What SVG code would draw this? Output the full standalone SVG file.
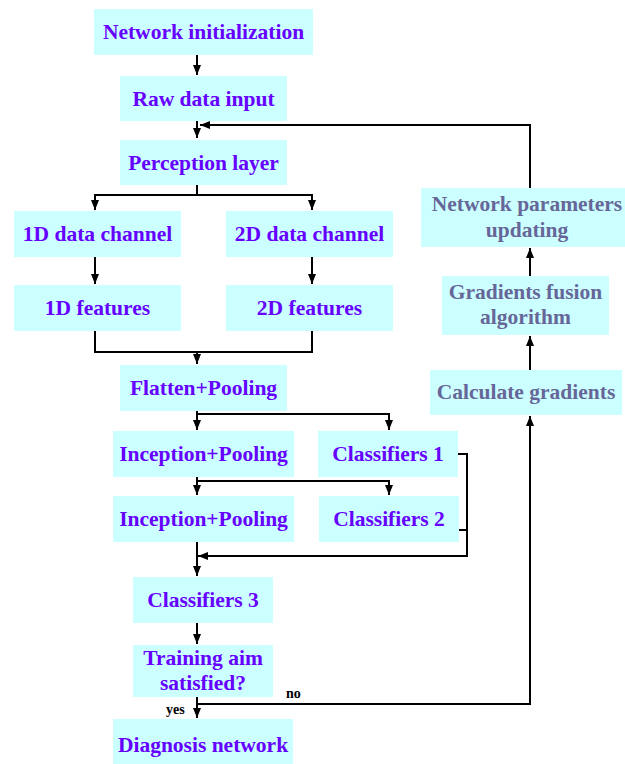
<svg xmlns="http://www.w3.org/2000/svg" width="625" height="764" viewBox="0 0 625 764">
<defs>
<marker id="ah" viewBox="0 0 10 10" refX="10" refY="5" markerWidth="10" markerHeight="10" markerUnits="userSpaceOnUse" orient="auto">
<path d="M0,1 L10,5 L0,9 Z" fill="#000"/>
</marker>
<style>
.b{fill:#ccffff}
.t{font-family:"Liberation Serif","Times New Roman","DejaVu Serif",serif;font-weight:bold;font-size:21.5px;text-anchor:middle;fill:#6600ff}
.g{fill:#666699}
.c{fill:none;stroke:#000;stroke-width:2}
.l{font-family:"Liberation Serif","Times New Roman","DejaVu Serif",serif;font-weight:bold;font-size:14px;fill:#000}
</style>
</defs>
<rect width="625" height="764" fill="#fff"/>
<g id="connectors">
<path class="c" d="M197,55 V75" marker-end="url(#ah)"/>
<path class="c" d="M197,121 V138" marker-end="url(#ah)"/>
<path class="c" d="M530,188 V125 H200" marker-end="url(#ah)"/>
<path class="c" d="M197,185 V195"/>
<path class="c" d="M197,195 H95 V210" marker-end="url(#ah)"/>
<path class="c" d="M197,195 H312 V210" marker-end="url(#ah)"/>
<path class="c" d="M95,257 V284" marker-end="url(#ah)"/>
<path class="c" d="M312,257 V284" marker-end="url(#ah)"/>
<path class="c" d="M95,331 V352 H312 V331"/>
<path class="c" d="M197,352 V364" marker-end="url(#ah)"/>
<path class="c" d="M197,411 V430" marker-end="url(#ah)"/>
<path class="c" d="M197,414 H389 V430" marker-end="url(#ah)"/>
<path class="c" d="M197,477 V495" marker-end="url(#ah)"/>
<path class="c" d="M197,481 H389 V495" marker-end="url(#ah)"/>
<path class="c" d="M458,454 H467 V556 H198" marker-end="url(#ah)"/>
<path class="c" d="M459,530 H467"/>
<path class="c" d="M197,542 V576" marker-end="url(#ah)"/>
<path class="c" d="M197,623 V644" marker-end="url(#ah)"/>
<path class="c" d="M197,697 V718" marker-end="url(#ah)"/>
<path class="c" d="M197,704 H530 V416" marker-end="url(#ah)"/>
<path class="c" d="M530,370 V336" marker-end="url(#ah)"/>
<path class="c" d="M530,276 V248" marker-end="url(#ah)"/>
<text class="l" x="166" y="714">yes</text>
<text class="l" x="286" y="698">no</text>
</g>
<g id="n-init"><rect class="b" x="94" y="9" width="219" height="46"/><text class="t" x="203.5" y="39">Network initialization</text></g>
<g id="n-raw"><rect class="b" x="120" y="76" width="167" height="45"/><text class="t" x="203.5" y="106">Raw data input</text></g>
<g id="n-perc"><rect class="b" x="120" y="140" width="167" height="45"/><text class="t" x="203.5" y="170">Perception layer</text></g>
<g id="n-1dch"><rect class="b" x="14" y="211" width="167" height="46"/><text class="t" x="97.5" y="241">1D data channel</text></g>
<g id="n-2dch"><rect class="b" x="226" y="211" width="167" height="46"/><text class="t" x="309.5" y="241">2D data channel</text></g>
<g id="n-1dft"><rect class="b" x="14" y="285" width="167" height="46"/><text class="t" x="97.5" y="315">1D features</text></g>
<g id="n-2dft"><rect class="b" x="226" y="285" width="167" height="46"/><text class="t" x="309.5" y="315">2D features</text></g>
<g id="n-flat"><rect class="b" x="120" y="365" width="167" height="46"/><text class="t" x="203.5" y="395">Flatten+Pooling</text></g>
<g id="n-inc1"><rect class="b" x="113" y="431" width="181" height="46"/><text class="t" x="203.5" y="461">Inception+Pooling</text></g>
<g id="n-cls1"><rect class="b" x="318" y="431" width="140" height="46"/><text class="t" x="388" y="461">Classifiers 1</text></g>
<g id="n-inc2"><rect class="b" x="113" y="496" width="181" height="46"/><text class="t" x="203.5" y="526">Inception+Pooling</text></g>
<g id="n-cls2"><rect class="b" x="319" y="496" width="140" height="46"/><text class="t" x="389" y="526">Classifiers 2</text></g>
<g id="n-cls3"><rect class="b" x="133" y="577" width="140" height="46"/><text class="t" x="203" y="607">Classifiers 3</text></g>
<g id="n-aim"><rect class="b" x="133" y="645" width="140" height="52"/><text class="t" x="203" y="665">Training aim</text><text class="t" x="203" y="690">satisfied?</text></g>
<g id="n-diag"><rect class="b" x="113" y="719" width="180" height="45"/><text class="t" x="203" y="752">Diagnosis network</text></g>
<g id="n-update"><rect class="b" x="421" y="188" width="204" height="59"/><text class="t g" x="527" y="211">Network parameters</text><text class="t g" x="527" y="237">updating</text></g>
<g id="n-fusion"><rect class="b" x="442" y="276" width="167" height="59"/><text class="t g" x="525.5" y="299">Gradients fusion</text><text class="t g" x="525.5" y="324">algorithm</text></g>
<g id="n-calc"><rect class="b" x="430" y="370" width="192" height="45"/><text class="t g" x="526" y="399">Calculate gradients</text></g>
</svg>
